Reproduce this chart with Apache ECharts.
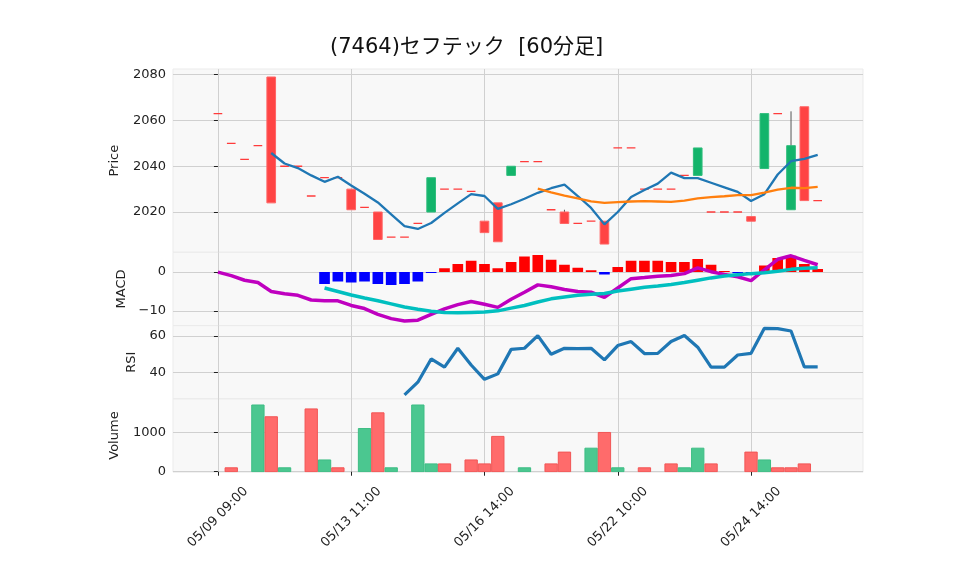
<!DOCTYPE html>
<html><head><meta charset="utf-8">
<script src="https://cdn.jsdelivr.net/npm/echarts@6/dist/echarts.min.js"></script>
<style>html,body{margin:0;padding:0;background:#fff}#c{width:958px;height:575px}</style>
</head><body><div id="c"></div>
<script>
const titleText = '(7464)セフテック  [60分足]';
const tickIdx = [0, 10, 20, 30, 40];
const tickLabels = ['05/09 09:00', '05/13 11:00', '05/16 14:00', '05/22 10:00', '05/24 14:00'];

const opens = [2063,2050,2043,2049,2079,2040,2040,2027,2035,2035,
  2030,2022,2020,2009,2009,2015,2020,2030,2030,2029,
  2016,2024,2036,2042,2042,2021,2020,2015,2016,2016,
  2048,2048,2030,2030,2030,2036,2036,2020,2020,2020,
  2018,2039,2063,2021,2066,2025];
const closes = [2063,2050,2043,2049,2024,2040,2040,2027,2035,2035,
  2021,2022,2008,2009,2009,2015,2035,2030,2030,2029,
  2011,2007,2040,2042,2042,2021,2015,2015,2016,2006,
  2048,2048,2030,2030,2030,2036,2048,2020,2020,2020,
  2016,2063,2063,2049,2025,2025];
const highs = [2063,2050,2043,2049,2079,2040,2040,2027,2035,2035,
  2030,2022,2020,2009,2009,2015,2035,2030,2030,2029,
  2016,2024,2040,2042,2042,2021,2021,2015,2016,2016,
  2048,2048,2030,2030,2030,2036,2048,2020,2020,2020,
  2018,2063,2063,2064,2066,2025];
const lows = [2063,2050,2043,2049,2024,2040,2040,2027,2035,2035,
  2021,2022,2008,2009,2009,2015,2020,2030,2030,2029,
  2011,2007,2036,2042,2042,2021,2015,2015,2016,2006,
  2048,2048,2030,2030,2030,2036,2036,2020,2020,2020,
  2016,2039,2063,2021,2025,2025];
const ma5 = [null,null,null,null,2045.8,2041.2,2039.2,2036.0,2033.2,2035.4,
  2031.6,2028.0,2024.2,2019.0,2013.8,2012.6,2015.2,2019.6,2023.8,2027.8,
  2027.0,2021.4,2023.4,2025.8,2028.4,2030.4,2032.0,2027.0,2021.8,2014.6,
  2020.0,2026.6,2029.6,2032.4,2037.2,2034.8,2034.8,2032.8,2030.8,2028.8,
  2024.8,2027.8,2036.4,2042.2,2043.2,2045.0];
const ma25 = [null,null,null,null,null,null,null,null,null,null,
  null,null,null,null,null,null,null,null,null,null,
  null,null,null,null,2030.2,2028.6,2027.2,2026.0,2024.7,2024.0,
  2024.3,2024.6,2024.8,2024.6,2024.4,2025.0,2026.0,2026.5,2026.9,2027.4,
  2027.4,2028.5,2029.8,2030.6,2030.4,2031.0];
const volumes = [0,100,0,1700,1400,100,0,1600,300,100,
  0,1100,1500,100,0,1700,200,200,0,300,
  200,900,0,100,0,200,500,0,600,1000,
  100,0,100,0,200,100,600,200,0,0,
  500,300,100,100,200,0];
const macd = [0,-0.9,-2.1,-2.7,-5.0,-5.6,-6.0,-7.2,-7.4,-7.4,
  -8.6,-9.4,-10.9,-12.0,-12.6,-12.4,-10.9,-9.5,-8.4,-7.6,
  -8.3,-9.1,-7.0,-5.2,-3.3,-3.8,-4.5,-5.0,-5.2,-6.5,
  -4.1,-1.7,-1.4,-1.1,-0.9,-0.4,1.1,0.1,-0.6,-1.2,
  -2.2,0.6,3.3,4.2,3.0,1.9];
const signal = [null,null,null,null,null,null,null,null,-4.1,-5.0,
  -5.9,-6.7,-7.4,-8.2,-9.0,-9.6,-10.1,-10.4,-10.5,-10.4,
  -10.3,-10.0,-9.3,-8.6,-7.7,-6.9,-6.4,-6.0,-5.7,-5.5,
  -4.9,-4.4,-3.9,-3.6,-3.2,-2.7,-2.1,-1.5,-1.0,-0.7,
  -0.4,-0.2,0.2,0.7,1.0,1.1];
const hist = [null,null,null,null,null,null,null,null,-3.1,-2.4,
  -2.7,-2.4,-3.1,-3.3,-3.1,-2.4,-0.15,1.0,2.1,2.9,
  2.1,1.0,2.6,4.0,4.4,3.2,1.9,1.1,0.5,-0.6,
  1.3,2.9,2.9,2.9,2.6,2.6,3.4,1.9,0.3,-0.3,
  -0.3,1.7,3.6,4.2,2.1,0.8];
const rsi = [null,null,null,null,null,null,null,null,null,null,
  null,null,null,null,27.5,34.5,47.3,42.8,53.2,44.0,
  36.1,39.1,52.6,53.2,60.2,49.9,53.2,53.0,53.2,46.8,
  54.7,56.9,50.3,50.4,56.9,60.2,53.8,42.8,42.8,49.5,
  50.4,64.2,64.0,62.7,42.9,42.9];

const FONT = 'DejaVu Sans, "Noto Sans CJK JP", sans-serif';
const XMIN = -3.37, XMAX = 48.4;
const GL = 173, GW = 690;
const grids = [
  {top: 69, height: 183.3},
  {top: 252.3, height: 73.3},
  {top: 325.6, height: 73.3},
  {top: 398.9, height: 73.3}
].map(g => Object.assign({left: GL, width: GW, show: true, backgroundColor: '#f8f8f8', borderColor: '#ebebeb', borderWidth: 1}, g));

function pairs(arr) {
  const out = [];
  arr.forEach((v, i) => { if (v !== null) out.push([i, v]); });
  return out;
}

function xAx(gi, bottom) {
  return {
    type: 'value', gridIndex: gi, min: XMIN, max: XMAX,
    axisLine: {show: false},
    axisTick: {show: bottom, customValues: tickIdx, length: 4, lineStyle: {color: '#222'}},
    axisLabel: {show: bottom, customValues: tickIdx, rotate: 45, align: 'center', verticalAlign: 'middle',
      margin: 45, fontSize: 13, color: '#222', fontFamily: FONT,
      formatter: v => tickLabels[tickIdx.indexOf(Math.round(v))] || ''},
    splitLine: {show: true, lineStyle: {color: '#d0d0d0', width: 1}}
  };
}
function yAx(gi, min, max, ticks, name, gap, fmt) {
  return {
    type: 'value', gridIndex: gi, min: min, max: max, scale: true,
    name: name, nameLocation: 'middle', nameRotate: 90, nameGap: gap,
    nameTextStyle: {fontSize: 13, color: '#222', fontFamily: FONT},
    axisLine: {show: false},
    axisTick: {show: true, customValues: ticks, length: 4, lineStyle: {color: '#222'}},
    axisLabel: {customValues: ticks, fontSize: 13, color: '#222', margin: 7, fontFamily: FONT,
      formatter: fmt || (v => String(v))},
    splitLine: {show: true, lineStyle: {color: '#d0d0d0', width: 1}}
  };
}

const UP = '#13b46b', UP_EDGE = '#2fbd7c', DN = '#ff4444', DN_EDGE = '#ff6565';

function candleItem(params, api) {
  const i = api.value(0), o = api.value(1), c = api.value(2), l = api.value(3), h = api.value(4);
  const po = api.coord([i, o]), pc = api.coord([i, c]), ph = api.coord([i, h]), pl = api.coord([i, l]);
  const w = api.size([1, 0])[0] * 0.65;
  const x = po[0];
  const children = [];
  if (h > Math.max(o, c) || l < Math.min(o, c)) {
    children.push({type: 'line', shape: {x1: x, y1: ph[1], x2: x, y2: pl[1]}, style: {stroke: '#555', lineWidth: 1}});
  }
  if (o === c) {
    children.push({type: 'line', shape: {x1: x - w / 2, y1: po[1], x2: x + w / 2, y2: po[1]}, style: {stroke: '#ff3b3b', lineWidth: 1.3}});
  } else {
    const up = c > o;
    children.push({type: 'rect', shape: {x: x - w / 2, y: Math.min(po[1], pc[1]), width: w, height: Math.abs(po[1] - pc[1])},
      style: {fill: up ? UP : DN, stroke: up ? UP_EDGE : DN_EDGE, lineWidth: 1}});
  }
  return {type: 'group', children: children};
}
function volItem(params, api) {
  const i = api.value(0), v = api.value(1), up = api.value(2);
  if (!v) return null;
  const p0 = api.coord([i, 0]), p1 = api.coord([i, v]);
  const w = api.size([1, 0])[0];
  return {type: 'rect', shape: {x: p0[0] - w / 2 + 0.5, y: p1[1], width: w - 1, height: p0[1] - p1[1]},
    style: {fill: up ? '#4bc790' : '#ff6b6b', stroke: up ? '#3dbd84' : '#f25555', lineWidth: 1}};
}
function histItem(params, api) {
  const i = api.value(0), v = api.value(1);
  const p0 = api.coord([i, 0]), p1 = api.coord([i, v]);
  const w = api.size([1, 0])[0] * 0.8;
  const hgt = p0[1] - p1[1];
  return {type: 'rect', shape: {x: p0[0] - w / 2, y: Math.min(p0[1], p1[1]), width: w, height: Math.max(Math.abs(hgt), 1)},
    style: {fill: v >= 0 ? '#ff0000' : '#0000ff'}};
}

const candleData = opens.map((o, i) => [i, o, closes[i], lows[i], highs[i]]);
const volData = volumes.map((v, i) => [i, v, i > 0 && closes[i] > closes[i - 1] ? 1 : 0]);
const histData = pairs(hist);

const minus = v => (v < 0 ? '\u2212' + Math.abs(v) : String(v));

const option = {
  animation: false,
  backgroundColor: '#ffffff',
  title: {text: titleText, left: 325, top: 32,
    textStyle: {fontSize: 21, fontWeight: 'normal', color: '#111', fontFamily: FONT}},
  grid: grids,
  xAxis: [xAx(0, false), xAx(1, false), xAx(2, false), xAx(3, true)],
  yAxis: [
    yAx(0, 2002.4, 2082.5, [2020, 2040, 2060, 2080], 'Price', 52),
    yAx(1, -13.8, 5.1, [-10, 0], 'MACD', 41, minus),
    yAx(2, 25.3, 65.7, [40, 60], 'RSI', 33),
    yAx(3, -12, 1855, [0, 1000], 'Volume', 52)
  ],
  series: [
    {type: 'custom', xAxisIndex: 0, yAxisIndex: 0, renderItem: candleItem, data: candleData,
      encode: {x: 0, y: [1, 2, 3, 4]}, clip: true, z: 2},
    {type: 'line', xAxisIndex: 0, yAxisIndex: 0, data: pairs(ma5), showSymbol: false, symbol: 'none',
      lineStyle: {color: '#1f77b4', width: 2.3}, z: 3},
    {type: 'line', xAxisIndex: 0, yAxisIndex: 0, data: pairs(ma25), showSymbol: false, symbol: 'none',
      lineStyle: {color: '#ff7f0e', width: 2.3}, z: 3},
    {type: 'custom', xAxisIndex: 1, yAxisIndex: 1, renderItem: histItem, data: histData,
      encode: {x: 0, y: 1}, clip: true, z: 2},
    {type: 'line', xAxisIndex: 1, yAxisIndex: 1, data: pairs(macd), showSymbol: false, symbol: 'none',
      lineStyle: {color: '#bf00bf', width: 3.5}, z: 3},
    {type: 'line', xAxisIndex: 1, yAxisIndex: 1, data: pairs(signal), showSymbol: false, symbol: 'none',
      lineStyle: {color: '#00bfbf', width: 3.5}, z: 3},
    {type: 'line', xAxisIndex: 2, yAxisIndex: 2, data: pairs(rsi), showSymbol: false, symbol: 'none',
      lineStyle: {color: '#1f77b4', width: 3.2}, z: 3},
    {type: 'custom', xAxisIndex: 3, yAxisIndex: 3, renderItem: volItem, data: volData,
      encode: {x: 0, y: 1}, clip: true, z: 2}
  ]
};
const chart = echarts.init(document.getElementById('c'), null, {renderer: 'canvas'});
chart.setOption(option);
</script>
</body></html>
